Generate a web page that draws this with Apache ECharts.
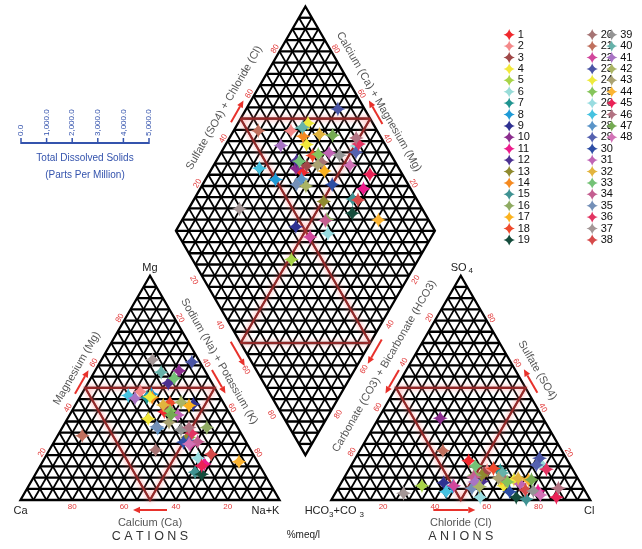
<!DOCTYPE html>
<html>
<head>
<meta charset="utf-8">
<script src="https://cdn.jsdelivr.net/npm/echarts@6/dist/echarts.min.js"></script>
<style>
  html, body { margin: 0; padding: 0; background: #ffffff; }
  #chart { width: 642px; height: 549px; }
</style>
</head>
<body>
<div id="chart"></div>
<script>
// ---- Samples (legend entries) -------------------------------------------
const sampleNames = Array.from({ length: 48 }, (_, i) => String(i + 1));
const sampleColors = [
  '#f0282d', '#f4898a', '#a04848', '#f2e83a', '#a8d448', '#98dcd8', '#1f9490', '#1e9ad6', '#2e3192', '#8b2d8e',
  '#ec1c8c', '#4b3191', '#8f8a2e', '#f58a20', '#3f9292', '#8fab62', '#fbb21e', '#ee4a2c', '#144c3c', '#a67474',
  '#c0705e', '#d2479c', '#4a55a5', '#eeea3c', '#86c55b', '#98dce0', '#45c2e0', '#5a94c8', '#5562b0', '#2d4ea5',
  '#c064b4', '#e2b43e', '#74c276', '#c45e90', '#7490b8', '#e23462', '#a39696', '#d64a4a', '#949494', '#66b2aa',
  '#a874c4', '#aab464', '#aaa272', '#fbb432', '#ea2256', '#b27282', '#74aa52', '#d272b6'
];

// ---- Cations, % meq/l (calcium is the remainder) -------------------------
const cationMg = [
  39.4, 48.3, 41.0, 36.2, 28.0, 27.0, 45.7, 47.2, 42.7, 57.6,
  16.0, 52.1, 28.0, 45.7, 12.4, 32.3, 42.1, 43.4, 11.5, 22.3,
  28.7, 24.6, 61.5, 46.0, 39.7, 18.6, 46.6, 32.0, 26.0, 25.8,
  37.9, 42.4, 54.3, 26.0, 32.7, 29.8, 62.5, 20.4, 31.3, 57.0,
  45.4, 43.6, 34.7, 17.1, 15.3, 32.3, 37.9, 25.0
];
const cationNaK = [
  35.8, 22.1, 36.0, 31.2, 51.0, 51.0, 25.9, 27.0, 45.4, 32.4,
  63.0, 31.0, 50.5, 28.0, 61.2, 55.8, 44.0, 36.0, 64.2, 41.0,
  9.5, 53.2, 35.4, 27.0, 37.9, 59.3, 18.3, 37.0, 52.0, 50.0,
  41.8, 33.9, 32.2, 55.4, 36.2, 51.2, 19.7, 63.4, 46.3, 25.8,
  21.5, 40.2, 40.0, 75.8, 62.3, 48.9, 39.2, 52.6
];

// ---- Anions, % meq/l (carbonate + bicarbonate is the remainder) ----------
const anionSO4 = [
  17.5, 13.1, 12.0, 6.3, 6.4, 16.0, 13.1, 6.0, 7.7, 36.5,
  4.0, 8.2, 11.0, 10.0, 0.3, 11.0, 9.7, 14.0, 1.2, 8.9,
  22.0, 6.3, 18.6, 9.0, 8.0, 1.2, 3.7, 6.0, 15.6, 3.7,
  7.1, 9.7, 15.2, 10.1, 5.2, 13.7, 3.0, 4.5, 4.0, 12.0,
  8.0, 5.9, 9.7, 8.9, 1.2, 5.2, 9.0, 2.2
];
const anionCl = [
  44.3, 53.6, 53.0, 63.4, 31.8, 72.8, 58.7, 43.9, 39.5, 23.8,
  77.8, 54.0, 52.6, 60.2, 75.1, 49.8, 61.0, 55.6, 70.8, 62.7,
  32.1, 44.1, 71.1, 66.0, 64.0, 56.9, 42.5, 54.0, 71.4, 67.0,
  69.4, 67.3, 48.0, 49.9, 51.7, 76.2, 26.4, 72.7, 76.0, 60.0,
  51.5, 54.3, 59.7, 71.7, 86.3, 85.1, 72.8, 79.6
];

// ---- Scale labels ----------------------------------------------------------
const percentTicks = [20, 40, 60, 80];
const tdsTicks = ['0.0', '1,000.0', '2,000.0', '3,000.0', '4,000.0', '5,000.0'];

// ---- Piper geometry (triangle side = 100 units) ---------------------------
const H = Math.sqrt(3) / 2 * 100;
const UNIT_PX = 2.59;
const ORIGIN_PX = [20.5, 500];
const CAT = { A: [0, 0], B: [100, 0], C: [50, H], mid: [50, H / 3] };
const ANI = { D: [120, 0], E: [220, 0], F: [170, H], mid: [170, H / 3] };
const DIA = { P: [110, 0.2 * H], L: [60, 1.2 * H], R: [160, 1.2 * H], T: [110, 2.2 * H], mid: [110, 1.2 * H] };

function cationXY(mg, nak) { return [nak + mg / 2, mg * H / 100]; }
function anionXY(so4, cl) { return [120 + cl + so4 / 2, so4 * H / 100]; }
function diamondXY(camg, so4cl) { return [110 + (so4cl - camg) / 2, 0.2 * H + (camg + so4cl) * H / 100]; }

const STAR = 'path://M0,-10 Q2,-2 10,0 Q2,2 0,10 Q-2,2 -10,0 Q-2,-2 0,-10 Z';
const RED = '#e8312b';
const TICK_RED = '#e23a3a';
const TITLE_GREY = '#555555';
const FONT = '"Liberation Sans", Arial, sans-serif';
const TDS_BLUE = '#3453ad';

function renderFrame(params, api) {
  const P = u => api.coord(u);
  const kids = [];
  const gridH = { stroke: '#000', lineWidth: 2.3 };
  const gridD = { stroke: '#000', lineWidth: 1.8 };
  const border = { stroke: '#000', lineWidth: 2.3 };
  const field = { stroke: 'rgba(160,40,40,0.85)', lineWidth: 2.2, shadowBlur: 5, shadowColor: 'rgba(255,120,120,0.9)' };

  function seg(a, b, style) {
    const p = P(a), q = P(b);
    kids.push({ type: 'line', shape: { x1: p[0], y1: p[1], x2: q[0], y2: q[1] }, style });
  }
  function poly(pts, style) {
    kids.push({ type: 'polygon', shape: { points: pts.map(P) }, style: Object.assign({ fill: 'none' }, style) });
  }
  function edgeAt(a, b, t, off, inside) {
    const pa = P(a), pb = P(b), pi = P(inside);
    const x = pa[0] + (pb[0] - pa[0]) * t, y = pa[1] + (pb[1] - pa[1]) * t;
    let dx = pb[0] - pa[0], dy = pb[1] - pa[1];
    const len = Math.hypot(dx, dy); dx /= len; dy /= len;
    let nx = -dy, ny = dx;
    if ((pi[0] - x) * nx + (pi[1] - y) * ny > 0) { nx = -nx; ny = -ny; }
    return { x: x + nx * off, y: y + ny * off, dx, dy };
  }
  function text(x, y, str, size, color, rotDeg, extra) {
    kids.push({
      type: 'text', x, y, rotation: (rotDeg || 0) * Math.PI / 180,
      style: Object.assign({ text: str, fill: color, fontSize: size, fontFamily: FONT, align: 'center', verticalAlign: 'middle' }, extra || {})
    });
  }
  function arrowPx(x0, y0, x1, y1) {
    const dx = x1 - x0, dy = y1 - y0, len = Math.hypot(dx, dy), ux = dx / len, uy = dy / len;
    const hl = 7, hw = 3.2, bx = x1 - ux * hl, by = y1 - uy * hl;
    kids.push({ type: 'line', shape: { x1: x0, y1: y0, x2: bx, y2: by }, style: { stroke: RED, lineWidth: 2 } });
    kids.push({ type: 'polygon', shape: { points: [[x1, y1], [bx - uy * hw, by + ux * hw], [bx + uy * hw, by - ux * hw]] }, style: { fill: RED } });
  }
  function edgeArrow(a, b, t, off, inside, len) {
    const c = edgeAt(a, b, t, off, inside);
    arrowPx(c.x - c.dx * len / 2, c.y - c.dy * len / 2, c.x + c.dx * len / 2, c.y + c.dy * len / 2);
  }
  function edgeTicks(a, b, off, inside, rot) {
    percentTicks.forEach(v => {
      const c = edgeAt(a, b, v / 100, off, inside);
      text(c.x, c.y, String(v), 8, TICK_RED, rot);
    });
  }
  function edgeTitle(a, b, t, off, inside, str, rot) {
    const c = edgeAt(a, b, t, off, inside);
    text(c.x, c.y, str, 11, TITLE_GREY, rot);
  }

  // triangle lattices, 5 % steps
  [0, 120].forEach(ox => {
    for (let k = 1; k < 20; k++) {
      const t = k / 20;
      seg([ox + 100 * t, 0], [ox + 100 * t + 50 * (1 - t), (1 - t) * H], gridD);
      seg([ox + 100 * t, 0], [ox + 50 * t, t * H], gridD);
    }
    for (let k = 1; k < 20; k++) {
      const t = k / 20;
      seg([ox + 50 * t, t * H], [ox + 100 - 50 * t, t * H], gridH);
    }
    poly([[ox, 0], [ox + 100, 0], [ox + 50, H]], border);
  });

  // diamond lattice
  for (let k = 1; k < 20; k++) {
    const t = k / 20;
    seg([110 - 50 * t, 0.2 * H + t * H], [160 - 50 * t, 1.2 * H + t * H], gridD);
    seg([110 + 50 * t, 0.2 * H + t * H], [60 + 50 * t, 1.2 * H + t * H], gridD);
  }
  for (let k = 1; k < 40; k++) {
    const y = 0.2 * H + k * H / 20;
    const hw = (k <= 20 ? k : 40 - k) / 20 * 50;
    seg([110 - hw, y], [110 + hw, y], gridH);
  }
  poly([DIA.P, DIA.R, DIA.T, DIA.L], border);

  // water-type fields
  poly([[25, H / 2], [75, H / 2], [50, 0]], field);
  poly([[145, H / 2], [195, H / 2], [170, 0]], field);
  const m1 = [85, 1.7 * H], m2 = [135, 1.7 * H], m3 = [85, 0.7 * H], m4 = [135, 0.7 * H];
  seg(m1, m2, field); seg(m3, m4, field); seg(m1, m4, field); seg(m2, m3, field);

  // percentage scales
  edgeTicks(CAT.A, CAT.C, 5, CAT.mid, 60);
  edgeTicks(CAT.C, CAT.B, 5, CAT.mid, -60);
  edgeTicks(CAT.B, CAT.A, 7, CAT.mid, 0);
  edgeTicks(ANI.F, ANI.D, 6, ANI.mid, 60);
  edgeTicks(ANI.E, ANI.F, 5, ANI.mid, -60);
  edgeTicks(ANI.D, ANI.E, 7, ANI.mid, 0);
  edgeTicks(DIA.L, DIA.T, 5, DIA.mid, 60);
  edgeTicks(DIA.R, DIA.T, 5, DIA.mid, -60);
  edgeTicks(DIA.L, DIA.P, 9, DIA.mid, -60);
  edgeTicks(DIA.R, DIA.P, 8, DIA.mid, 60);

  // axis titles and direction arrows
  edgeTitle(CAT.A, CAT.C, 0.549, 17, CAT.mid, 'Magnesium (Mg)', 60);
  edgeArrow(CAT.A, CAT.C, 0.513, 6, CAT.mid, 27);
  edgeTitle(CAT.C, CAT.B, 0.42, 17, CAT.mid, 'Sodium (Na) + Potassium (K)', -60);
  edgeArrow(CAT.C, CAT.B, 0.487, 6.5, CAT.mid, 27);
  edgeTitle(CAT.B, CAT.A, 0.5, 23, CAT.mid, 'Calcium (Ca)', 0);
  edgeArrow(CAT.B, CAT.A, 0.5, 10, CAT.mid, 34);

  edgeTitle(ANI.E, ANI.F, 0.536, 19, ANI.mid, 'Sulfate (SO4)', -60);
  edgeArrow(ANI.E, ANI.F, 0.513, 7.8, ANI.mid, 27);
  edgeTitle(ANI.F, ANI.D, 0.45, 21, ANI.mid, 'Carbonate (CO3) + Bicarbonate (HCO3)', 60);
  edgeArrow(ANI.F, ANI.D, 0.487, 6.4, ANI.mid, 27);
  edgeTitle(ANI.D, ANI.E, 0.5, 23, ANI.mid, 'Chloride (Cl)', 0);
  edgeArrow(ANI.D, ANI.E, 0.475, 10, ANI.mid, 42);

  edgeTitle(DIA.L, DIA.T, 0.504, 19.7, DIA.mid, 'Sulfate (SO4) + Chloride (Cl)', 60);
  edgeArrow(DIA.L, DIA.T, 0.518, 6.6, DIA.mid, 25);
  edgeTitle(DIA.R, DIA.T, 0.54, 16, DIA.mid, 'Calcium (Ca) + Magnesium (Mg)', -60);
  edgeArrow(DIA.R, DIA.T, 0.511, 8, DIA.mid, 27);
  edgeArrow(DIA.L, DIA.P, 0.531, 8, DIA.mid, 28);
  edgeArrow(DIA.R, DIA.P, 0.52, 8.3, DIA.mid, 28);

  // corner labels
  const cMg = P(CAT.C), cCa = P(CAT.A), cNa = P(CAT.B);
  const aS = P(ANI.F), aH = P(ANI.D), aCl = P(ANI.E);
  text(cMg[0], cMg[1] - 8, 'Mg', 11, '#222');
  text(cCa[0], cCa[1] + 11, 'Ca', 11, '#222');
  text(cNa[0] - 14, cNa[1] + 11, 'Na+K', 11, '#222');
  text(aS[0] + 1, aS[1] - 8, '{a|SO}{b|4}', 11, '#222', 0, {
    rich: { a: { fontSize: 11, fontFamily: FONT, fill: '#222' }, b: { fontSize: 8, fontFamily: FONT, fill: '#222', padding: [7, 0, 0, 2] } }
  });
  text(aH[0] + 3, aH[1] + 11, '{a|HCO}{b|3}{a|+CO }{b|3}', 11, '#222', 0, {
    rich: { a: { fontSize: 11, fontFamily: FONT, fill: '#222' }, b: { fontSize: 8, fontFamily: FONT, fill: '#222', padding: [7, 0, 0, 0] } }
  });
  text(aCl[0] - 1, aCl[1] + 11, 'Cl', 11, '#222');
  text((cNa[0] + aH[0]) / 2 - 2, cNa[1] + 35, '%meq/l', 10, '#222');
  text(cMg[0], cCa[1] + 37, 'C A T I O N S', 12.5, '#333');
  text(aS[0], cCa[1] + 37, 'A N I O N S', 12.5, '#333');

  // total dissolved solids scale
  const tx0 = 21, tx1 = 149, ty = 143;
  kids.push({ type: 'line', shape: { x1: tx0, y1: ty, x2: tx1, y2: ty }, style: { stroke: TDS_BLUE, lineWidth: 2 } });
  tdsTicks.forEach((lab, i) => {
    const x = tx0 + (tx1 - tx0) * i / (tdsTicks.length - 1);
    kids.push({ type: 'line', shape: { x1: x, y1: ty + 1, x2: x, y2: ty - 5 }, style: { stroke: TDS_BLUE, lineWidth: 1.5 } });
    text(x, ty - 7, lab, 8, TDS_BLUE, 90, { align: 'left' });
  });
  text(85, 158, 'Total Dissolved Solids', 10, TDS_BLUE);
  text(85, 175, '(Parts Per Million)', 10, TDS_BLUE);

  return { type: 'group', children: kids };
}

const sampleSeries = sampleNames.map((name, i) => ({
  type: 'scatter',
  name,
  symbol: STAR,
  symbolSize: 15,
  itemStyle: { color: sampleColors[i], opacity: 1 },
  z: 5,
  silent: true,
  data: [
    cationXY(cationMg[i], cationNaK[i]),
    anionXY(anionSO4[i], anionCl[i]),
    diamondXY(100 - cationNaK[i], anionSO4[i] + anionCl[i])
  ]
}));

function legendColumn(names, left, top) {
  return {
    data: names, orient: 'vertical', left, top, padding: 0,
    itemWidth: 15, itemHeight: 11.4, itemGap: 0,
    icon: STAR, selectedMode: false,
    textStyle: { fontSize: 11, fontFamily: FONT, color: '#111', lineHeight: 11.4, padding: [0, 0, 0, -4] }
  };
}

const chart = echarts.init(document.getElementById('chart'), null, { renderer: 'canvas' });
chart.setOption({
  animation: false,
  backgroundColor: '#ffffff',
  grid: { left: 0, right: 0, top: 0, bottom: 0 },
  xAxis: { type: 'value', show: false, min: -ORIGIN_PX[0] / UNIT_PX, max: (642 - ORIGIN_PX[0]) / UNIT_PX },
  yAxis: { type: 'value', show: false, min: (ORIGIN_PX[1] - 549) / UNIT_PX, max: ORIGIN_PX[1] / UNIT_PX },
  legend: [
    legendColumn(sampleNames.slice(0, 19), 503.5, 29),
    legendColumn(sampleNames.slice(19, 38), 586.5, 29),
    legendColumn(sampleNames.slice(38), 606, 29)
  ],
  series: [{
    type: 'custom',
    name: 'frame',
    silent: true,
    clip: false,
    z: 1,
    renderItem: renderFrame,
    data: [[0, 0]],
    encode: { x: 0, y: 1 }
  }].concat(sampleSeries)
});
</script>
</body>
</html>
